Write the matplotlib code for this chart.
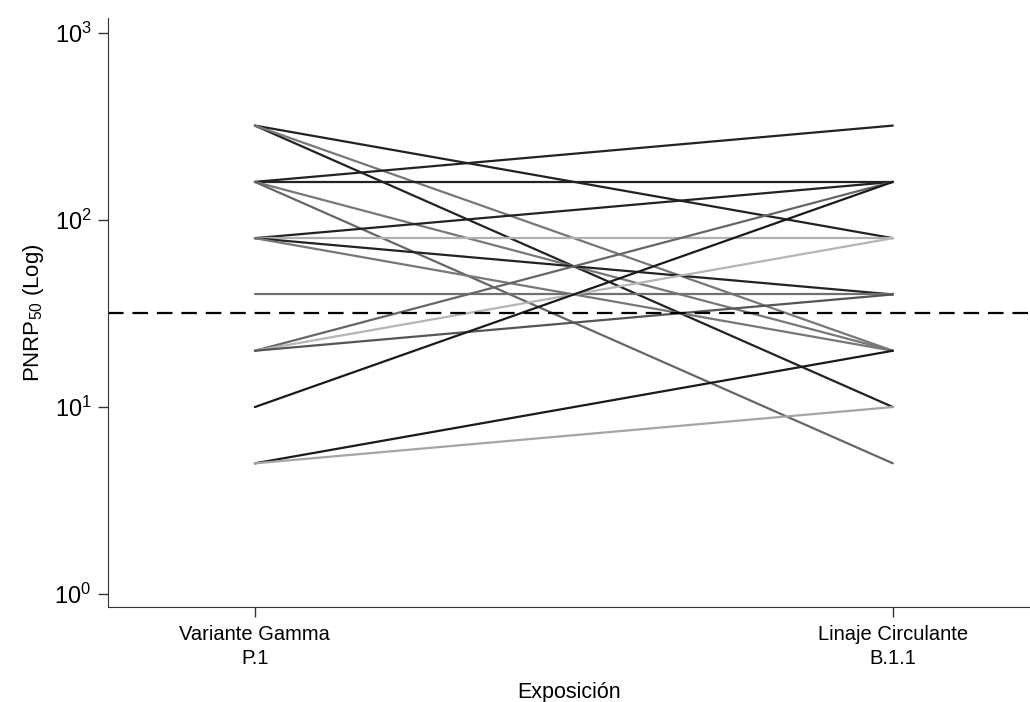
import numpy as np
import matplotlib
matplotlib.use('Agg')
import matplotlib.pyplot as plt
from matplotlib.ticker import LogLocator, NullLocator

plt.rcParams['font.family'] = ['Liberation Sans', 'DejaVu Sans']
plt.rcParams['mathtext.fontset'] = 'custom'
plt.rcParams['mathtext.rm'] = 'Liberation Sans'
plt.rcParams['mathtext.it'] = 'Liberation Sans'

# paired titers: P.1 (left) vs B.1.1 (right)
gamma_p1 = [320, 320, 320, 160, 160, 160, 160, 80, 80, 80, 80, 40, 20, 20, 20, 10, 5, 5]
linaje_b11 = [80, 10, 20, 320, 160, 20, 5, 160, 80, 40, 20, 40, 160, 80, 40, 160, 20, 10]
shade = ['#222222', '#222222', '#777777', '#222222', '#222222', '#777777', '#666666',
         '#222222', '#b0b0b0', '#222222', '#777777', '#707070', '#666666', '#b5b5b5',
         '#555555', '#1a1a1a', '#1a1a1a', '#a5a5a5']
cutoff = 32
xcats = ['Variante Gamma\nP.1', 'Linaje Circulante\nB.1.1']

fig = plt.figure(figsize=(10.30, 7.02), dpi=100)
ax = fig.add_axes([0.105, 0.135, 0.895, 0.839])

for a, b, c in zip(gamma_p1, linaje_b11, shade):
    ax.plot([0, 1], [a, b], color=c, lw=1.6, solid_capstyle='round')

ax.axhline(cutoff, color='black', lw=1.6, ls=(0, (7, 4)))

ax.set_yscale('log')
ax.set_ylim(0.85, 1200)
ax.set_xlim(-0.23, 1.215)
ax.yaxis.set_major_locator(LogLocator(base=10, numticks=10))
ax.yaxis.set_minor_locator(NullLocator())
ax.set_xticks([0, 1])
ax.set_xticklabels(xcats, fontsize=14.5, linespacing=1.3)
ax.tick_params(axis='y', labelsize=17, pad=5)
ax.tick_params(axis='x', pad=6)
ax.tick_params(direction='out', length=7, width=1, color='#333333')

ax.spines['top'].set_visible(False)
ax.spines['right'].set_visible(False)
ax.spines['left'].set_color('#333333')
ax.spines['bottom'].set_color('#333333')

ax.set_ylabel('PNRP$_{50}$ (Log)', fontsize=16, labelpad=6)
ax.set_xlabel('Exposición', fontsize=15.5, labelpad=10)

fig.savefig('out.png', dpi=100)
